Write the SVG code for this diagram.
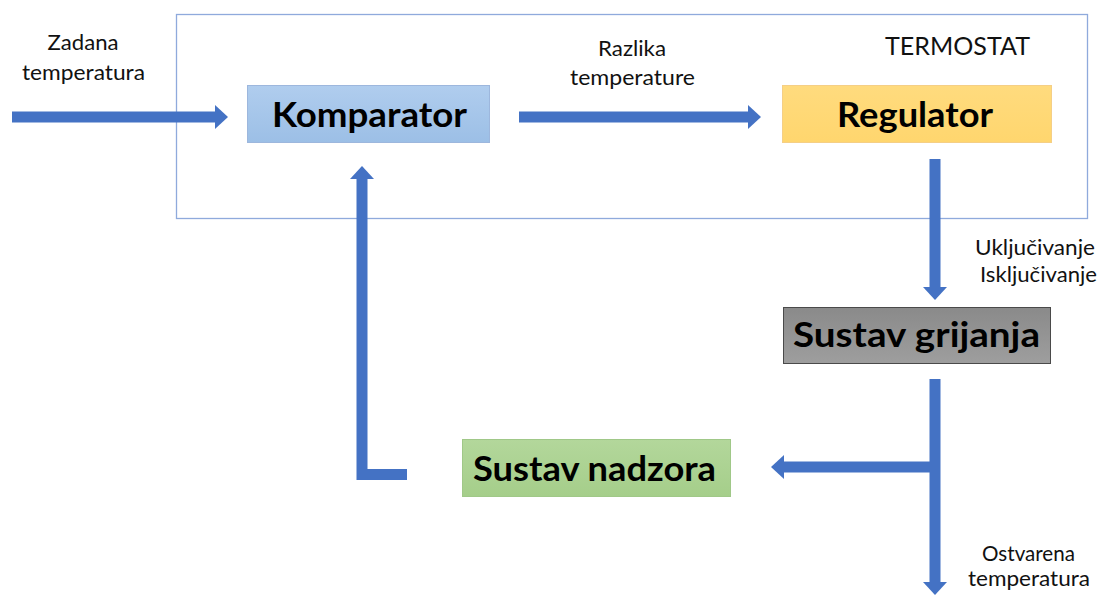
<svg xmlns="http://www.w3.org/2000/svg" width="1101" height="595" viewBox="0 0 1101 595">
  <style>
    .lbl { font-family: Lato, "Open Sans", "Liberation Sans", sans-serif; font-size: 22px; fill: #111; text-anchor: middle; }
    .title { font-family: Lato, "Open Sans", "Liberation Sans", sans-serif; font-size: 25px; fill: #111; text-anchor: middle; }
    .node-text { font-family: Lato, "Open Sans", "Liberation Sans", sans-serif; font-size: 35px; font-weight: bold; fill: #000; text-anchor: middle; }
    .conn { fill: none; stroke: #4472C4; stroke-width: 11; stroke-linejoin: miter; stroke-linecap: butt; }
  </style>
  <defs>
    <marker id="head" markerUnits="userSpaceOnUse" markerWidth="13" markerHeight="24" refX="0" refY="12" orient="auto">
      <path d="M0,0 L13,12 L0,24 Z" fill="#4472C4"/>
    </marker>
    <linearGradient id="gBlue" x1="0" y1="0" x2="0" y2="1">
      <stop offset="0" stop-color="#B0CDEE"/>
      <stop offset="1" stop-color="#9CBFE6"/>
    </linearGradient>
    <linearGradient id="gYellow" x1="0" y1="0" x2="0" y2="1">
      <stop offset="0" stop-color="#FFDB7E"/>
      <stop offset="1" stop-color="#FFD66E"/>
    </linearGradient>
    <linearGradient id="gGray" x1="0" y1="0" x2="0" y2="1">
      <stop offset="0" stop-color="#8A8A8A"/>
      <stop offset="1" stop-color="#9E9E9E"/>
    </linearGradient>
    <linearGradient id="gGreen" x1="0" y1="0" x2="0" y2="1">
      <stop offset="0" stop-color="#B3D79B"/>
      <stop offset="1" stop-color="#A5CE8A"/>
    </linearGradient>
  </defs>

  <rect width="1101" height="595" fill="#FFFFFF"/>

  <g id="termostat">
    <rect x="176.5" y="14.5" width="911" height="204" fill="none" stroke="#8FAADC" stroke-width="1.3"/>
    <text class="title" x="957.5" y="55" textLength="145" lengthAdjust="spacingAndGlyphs">TERMOSTAT</text>
  </g>

  <g id="connectors">
    <line class="conn" x1="12" y1="117" x2="215" y2="117" marker-end="url(#head)"/>
    <line class="conn" x1="519" y1="117" x2="748" y2="117" marker-end="url(#head)"/>
    <line class="conn" x1="935" y1="159" x2="935" y2="287" marker-end="url(#head)"/>
    <line class="conn" x1="935" y1="379" x2="935" y2="582" marker-end="url(#head)"/>
    <line class="conn" x1="930" y1="467" x2="784" y2="467" marker-end="url(#head)"/>
    <polyline class="conn" points="407,474.5 362,474.5 362,179" marker-end="url(#head)"/>
  </g>

  <g id="labels">
    <text class="lbl" x="83" y="50" textLength="71" lengthAdjust="spacingAndGlyphs">Zadana</text>
    <text class="lbl" x="83.5" y="80" textLength="123" lengthAdjust="spacingAndGlyphs">temperatura</text>
    <text class="lbl" x="632" y="56" textLength="68" lengthAdjust="spacingAndGlyphs">Razlika</text>
    <text class="lbl" x="632.5" y="85" textLength="125" lengthAdjust="spacingAndGlyphs">temperature</text>
    <text class="lbl" x="1035" y="255" textLength="120" lengthAdjust="spacingAndGlyphs">Uključivanje</text>
    <text class="lbl" x="1038.5" y="282" textLength="117" lengthAdjust="spacingAndGlyphs">Isključivanje</text>
    <text class="lbl" x="1028.5" y="561" textLength="93" lengthAdjust="spacingAndGlyphs">Ostvarena</text>
    <text class="lbl" x="1029" y="586" textLength="122" lengthAdjust="spacingAndGlyphs">temperatura</text>
  </g>

  <g id="komparator">
    <rect x="247.5" y="85.5" width="242" height="57" fill="url(#gBlue)" stroke="#9DB7DD" stroke-width="1"/>
    <text class="node-text" x="369.5" y="127" textLength="195" lengthAdjust="spacingAndGlyphs">Komparator</text>
  </g>

  <g id="regulator">
    <rect x="782.5" y="85.5" width="269" height="57" fill="url(#gYellow)" stroke="#F5CF86" stroke-width="1"/>
    <text class="node-text" x="915" y="127" textLength="156" lengthAdjust="spacingAndGlyphs">Regulator</text>
  </g>

  <g id="sustav-grijanja">
    <rect x="783.5" y="307.5" width="267" height="56" fill="url(#gGray)" stroke="#4A4A4A" stroke-width="1"/>
    <text class="node-text" x="916.5" y="347" textLength="247" lengthAdjust="spacingAndGlyphs">Sustav grijanja</text>
  </g>

  <g id="sustav-nadzora">
    <rect x="462.5" y="439.5" width="268" height="57" fill="url(#gGreen)" stroke="#A0C888" stroke-width="1"/>
    <text class="node-text" x="594.5" y="481" textLength="243" lengthAdjust="spacingAndGlyphs">Sustav nadzora</text>
  </g>
</svg>
